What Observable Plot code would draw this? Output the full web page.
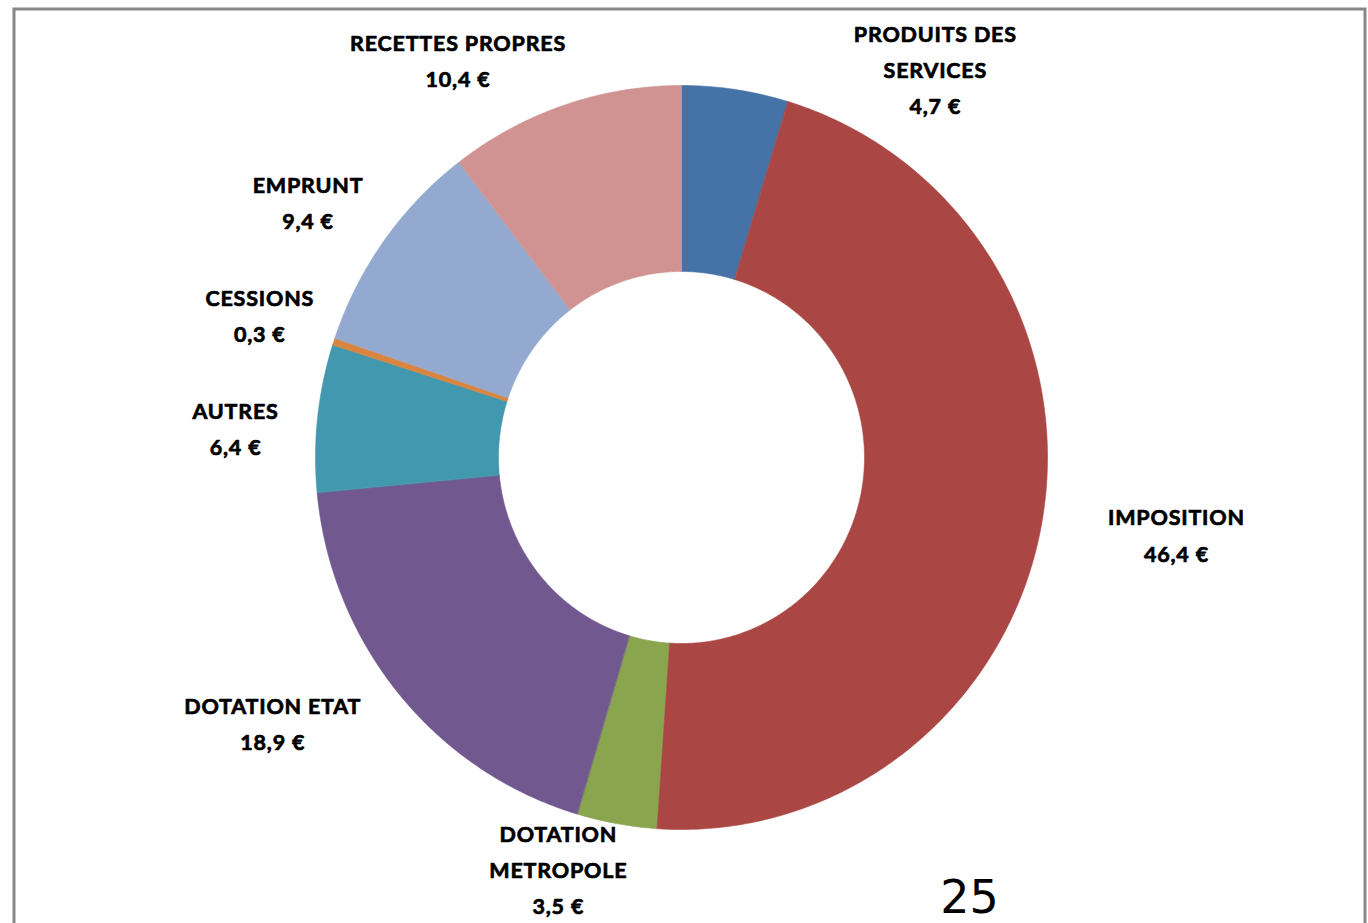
<!DOCTYPE html>
<html>
<head>
<meta charset="utf-8">
<script src="https://cdn.jsdelivr.net/npm/d3@7"></script>
<script src="https://cdn.jsdelivr.net/npm/@observablehq/plot@0.6"></script>
<style>
  html, body { margin: 0; padding: 0; background: #fff; }
  #chart { position: relative; width: 1368px; height: 923px; overflow: hidden; }
  #chart svg { display: block; }
  .lbl text { letter-spacing: 0.8px; }
</style>
</head>
<body>
<div id="chart"></div>
<script>
// ---- data ----
const categories = ["PRODUITS DES SERVICES", "IMPOSITION", "DOTATION METROPOLE", "DOTATION ETAT", "AUTRES", "CESSIONS", "EMPRUNT", "RECETTES PROPRES"];
const labelText = ["PRODUITS DES\nSERVICES", "IMPOSITION", "DOTATION\nMETROPOLE", "DOTATION ETAT", "AUTRES", "CESSIONS", "EMPRUNT", "RECETTES PROPRES"];
const values = [4.7, 46.4, 3.5, 18.9, 6.4, 0.3, 9.4, 10.4];
const colors = ["#4572A7", "#AA4643", "#89A54E", "#71588F", "#4198AF", "#DB843D", "#93A9CF", "#D19392"];
const pageNumber = ["25"];

// ---- layout (not data) ----
const CX = 681, CY = 457, RX = 366, RY = 372, INNER = 0.5;
// label nudges (pixels) from the outer edge at each slice's mid-angle
const labelNudge = [[200, -23], [135, 7], [-58, 43], [-126, 27], [-82, 8], [-74, -29], [-76, -41], [-106, -48]];

const fmt = v => d3.format(".1f")(v).replace(".", ",") + " €";

const arcs = d3.pie().sort(null).value(d => d)(values);

function sector(a0, a1) {
  const n = Math.max(2, Math.ceil((a1 - a0) / (Math.PI / 360)));
  const pts = [];
  for (let i = 0; i <= n; ++i) {
    const a = a0 + (a1 - a0) * i / n;
    pts.push([Math.sin(a), -Math.cos(a)]);
  }
  for (let i = n; i >= 0; --i) {
    const a = a0 + (a1 - a0) * i / n;
    pts.push([INNER * Math.sin(a), -INNER * Math.cos(a)]);
  }
  pts.push(pts[0]);
  return {type: "Polygon", coordinates: [pts]};
}

const slices = arcs.map((a, i) => {
  const mid = (a.startAngle + a.endAngle) / 2;
  return {
    category: categories[i],
    value: values[i],
    color: colors[i],
    geometry: sector(a.startAngle, a.endAngle),
    lx: Math.sin(mid) + labelNudge[i][0] / RX,
    ly: -Math.cos(mid) + labelNudge[i][1] / RY,
    label: labelText[i] + "\n" + fmt(values[i])
  };
});

const projection = d3.geoTransform({
  point(x, y) { this.stream.point(CX + x * RX, CY + y * RY); }
});

const chart = Plot.plot({
  width: 1368,
  height: 923,
  margin: 0,
  projection,
  style: {background: "#fff", overflow: "hidden"},
  marks: [
    Plot.geo(slices, {
      geometry: d => d.geometry,
      fill: d => d.color,
      stroke: d => d.color,
      strokeWidth: 0.6
    }),
    Plot.text(slices, {
      x: "lx",
      y: "ly",
      text: "label",
      textAnchor: "middle",
      className: "lbl",
      fontFamily: "Lato, 'Open Sans', sans-serif",
      fontWeight: "bold",
      fontSize: 21.5,
      lineHeight: 1.68,
      fill: "#000",
      stroke: "#000",
      strokeWidth: 0.7
    }),
    Plot.text(pageNumber, {
      text: d => d,
      frameAnchor: "top-left",
      dx: 969,
      dy: 880,
      textAnchor: "middle",
      fontFamily: "'DejaVu Sans', sans-serif",
      fontSize: 46,
      fill: "#000"
    }),
    Plot.frame({
      stroke: "#888",
      strokeWidth: 3,
      insetLeft: 13.5,
      insetTop: 8.5,
      insetRight: 3.5,
      insetBottom: -20
    })
  ]
});

document.getElementById("chart").appendChild(chart);
</script>
</body>
</html>
